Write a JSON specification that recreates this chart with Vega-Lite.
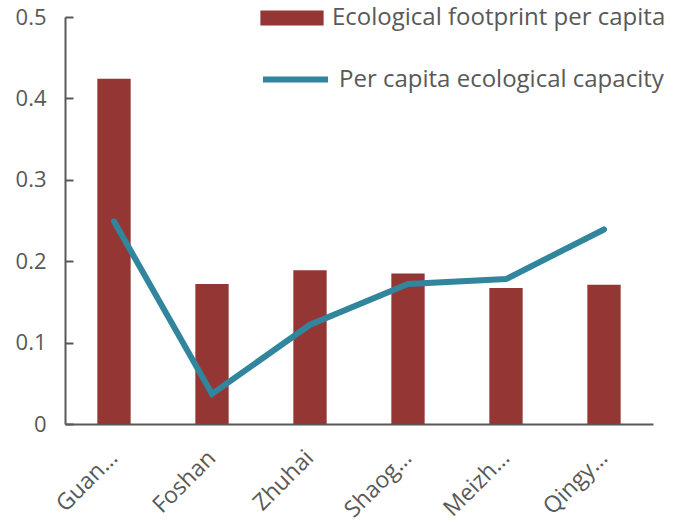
{
  "$schema": "https://vega.github.io/schema/vega-lite/v6.json",
  "autosize": {"type": "none"},
  "padding": {"left": 65, "top": 17, "right": 32, "bottom": 99},
  "width": 588,
  "height": 407,
  "background": "white",
  "config": {
    "view": {"stroke": null},
    "font": "Open Sans",
    "axis": {"labelFont": "Open Sans", "labelColor": "#595959", "labelFontSize": 22, "domainColor": "#595959", "tickColor": "#595959", "grid": false, "title": null}
  },
  "data": {
    "values": [
      {"city": "Guangzhou", "footprint": 0.424, "capacity": 0.249, "s1": "Ecological footprint per capita", "s2": "Per capita ecological capacity"},
      {"city": "Foshan", "footprint": 0.172, "capacity": 0.037, "s1": "Ecological footprint per capita", "s2": "Per capita ecological capacity"},
      {"city": "Zhuhai", "footprint": 0.189, "capacity": 0.122, "s1": "Ecological footprint per capita", "s2": "Per capita ecological capacity"},
      {"city": "Shaoguan", "footprint": 0.185, "capacity": 0.172, "s1": "Ecological footprint per capita", "s2": "Per capita ecological capacity"},
      {"city": "Meizhou", "footprint": 0.167, "capacity": 0.178, "s1": "Ecological footprint per capita", "s2": "Per capita ecological capacity"},
      {"city": "Qingyuan", "footprint": 0.171, "capacity": 0.239, "s1": "Ecological footprint per capita", "s2": "Per capita ecological capacity"}
    ]
  },
  "encoding": {
    "x": {
      "field": "city", "type": "nominal", "sort": null,
      "scale": {"paddingInner": 0.66, "paddingOuter": 0.33},
      "axis": {
        "labelAngle": -45, "labelAlign": "right", "labelBaseline": "middle",
        "labelPadding": 30, "ticks": false, "domainWidth": 2, "labelFontSize": 23,
        "labelExpr": "datum.label == 'Guangzhou' ? 'Guan…' : datum.label == 'Shaoguan' ? 'Shaog…' : datum.label == 'Meizhou' ? 'Meizh…' : datum.label == 'Qingyuan' ? 'Qingy…' : datum.label"
      }
    }
  },
  "layer": [
    {
      "mark": {"type": "bar"},
      "encoding": {
        "y": {
          "field": "footprint", "type": "quantitative",
          "scale": {"domain": [0, 0.5], "nice": false},
          "axis": {"values": [0, 0.1, 0.2, 0.3, 0.4, 0.5], "format": "~g", "ticks": true, "tickSize": -8, "tickWidth": 2, "domainWidth": 2, "labelPadding": 27}
        },
        "fill": {
          "field": "s1", "type": "nominal",
          "scale": {"range": ["#943634"]},
          "legend": {"orient": "none", "legendX": 195, "legendY": -31, "title": null, "labelFont": "Open Sans", "labelFontSize": 24, "labelColor": "#595959", "labelLimit": 600, "symbolType": "M-1,-0.24L1,-0.24L1,0.24L-1,0.24Z", "symbolSize": 4000, "symbolStrokeWidth": 0, "labelOffset": 8}
        }
      }
    },
    {
      "mark": {"type": "line", "strokeWidth": 6, "strokeCap": "round"},
      "encoding": {
        "y": {"field": "capacity", "type": "quantitative"},
        "stroke": {
          "field": "s2", "type": "nominal",
          "scale": {"range": ["#31859C"]},
          "legend": {"orient": "none", "legendX": 195, "legendY": 27, "title": null, "labelFont": "Open Sans", "labelFontSize": 24, "labelColor": "#595959", "labelLimit": 600, "symbolType": "stroke", "symbolSize": 4225, "symbolStrokeWidth": 6, "labelOffset": 8}
        }
      }
    }
  ]
}
